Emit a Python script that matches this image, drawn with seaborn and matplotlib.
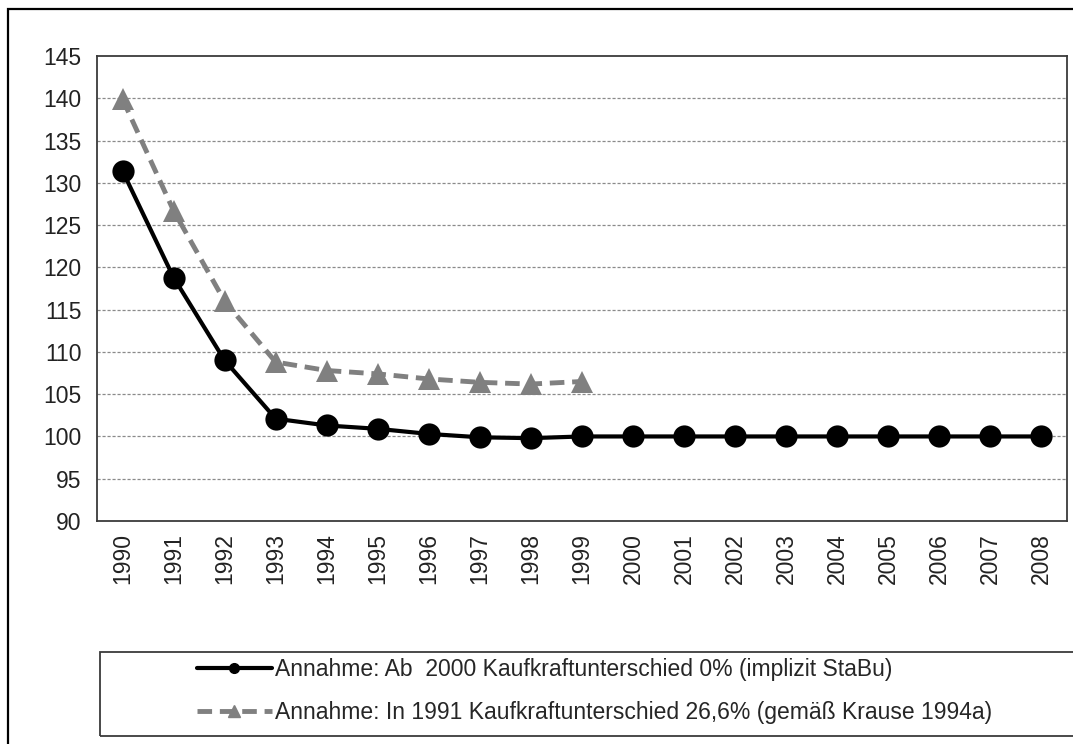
import numpy as np
import pandas as pd
import matplotlib
matplotlib.use("Agg")
import matplotlib.pyplot as plt
from matplotlib.lines import Line2D
from matplotlib.patches import Rectangle
import seaborn as sns

# data
years = [str(y) for y in range(1990, 2009)]
stabu = [131.4, 118.8, 109.0, 102.1, 101.3, 100.9, 100.3, 99.9, 99.8,
         100.0, 100.0, 100.0, 100.0, 100.0, 100.0, 100.0, 100.0, 100.0, 100.0]
krause = [139.9, 126.7, 116.0, 108.8, 107.8, 107.4, 106.8, 106.4, 106.2, 106.5]
label_stabu = "Annahme: Ab  2000 Kaufkraftunterschied 0% (implizit StaBu)"
label_krause = "Annahme: In 1991 Kaufkraftunterschied 26,6% (gemäß Krause 1994a)"

sns.set_style("white")
plt.rcParams['font.family'] = ['Liberation Sans', 'DejaVu Sans']

fs = 16.5
fig = plt.figure(figsize=(10.73, 7.44), dpi=100)
ax = fig.add_axes([97/1073, 1-521/744, (1067-97)/1073, (521-56)/744])

df1 = pd.DataFrame({"x": np.arange(len(stabu)), "y": stabu})
df2 = pd.DataFrame({"x": np.arange(len(krause)), "y": krause})

sns.lineplot(data=df2, x="x", y="y", ax=ax, color="#808080", lw=3.5,
             marker="^", markersize=16, markeredgewidth=0, zorder=3)
ax.lines[-1].set_dashes([3, 1.6])
sns.lineplot(data=df1, x="x", y="y", ax=ax, color="black", lw=3.0,
             marker="o", markersize=16, markeredgewidth=0, zorder=4)

ax.set_xlim(-0.5, len(years) - 0.5)
ax.set_ylim(90, 145)
ax.set_yticks(range(90, 146, 5))
ax.set_xticks(range(len(years)))
ax.set_xticklabels(years, rotation=90)
ax.set_xticks(np.arange(-0.5, len(years)), minor=True)
ax.tick_params(axis="x", which="major", length=0, pad=9, labelsize=fs, colors="#222222")
ax.tick_params(axis="x", which="minor", length=7, width=1.2, direction="out", color="#333333")
ax.tick_params(axis="y", length=7, width=1.2, direction="out", color="#333333",
               labelsize=fs, labelcolor="#222222", pad=4)
ax.set_xlabel("")
ax.set_ylabel("")

for y in range(95, 145, 5):
    ax.axhline(y, color="#8a8a8a", lw=0.9, ls=(0, (2.5, 1.5)), zorder=1)

for s in ax.spines.values():
    s.set_visible(True)
    s.set_color("#3a3a3a")
    s.set_linewidth(1.3)

# legend with its own wide frame
fig.patches.append(Rectangle((100/1073, 1-736/744), 1.0, (736-652)/744,
                             transform=fig.transFigure, fill=False,
                             edgecolor="#3a3a3a", lw=1.3))
handles = [
    Line2D([], [], color="black", lw=3.0, marker="o", markersize=7),
    Line2D([], [], color="#808080", lw=3.5, dashes=[3, 1.6], marker="^", markersize=8),
]
fig.legend(handles, [label_stabu, label_krause], loc="center left",
           bbox_to_anchor=(176/1073, 1-691/744), frameon=False, fontsize=fs,
           handlelength=3.3, handletextpad=0.12, labelspacing=0.85)

# outer frame
fig.patches.append(Rectangle((8/1073, -0.1), 1.2, 1.1 - 9/744,
                             transform=fig.transFigure, fill=False,
                             edgecolor="black", lw=1.6))

fig.savefig("out.png", dpi=100)
